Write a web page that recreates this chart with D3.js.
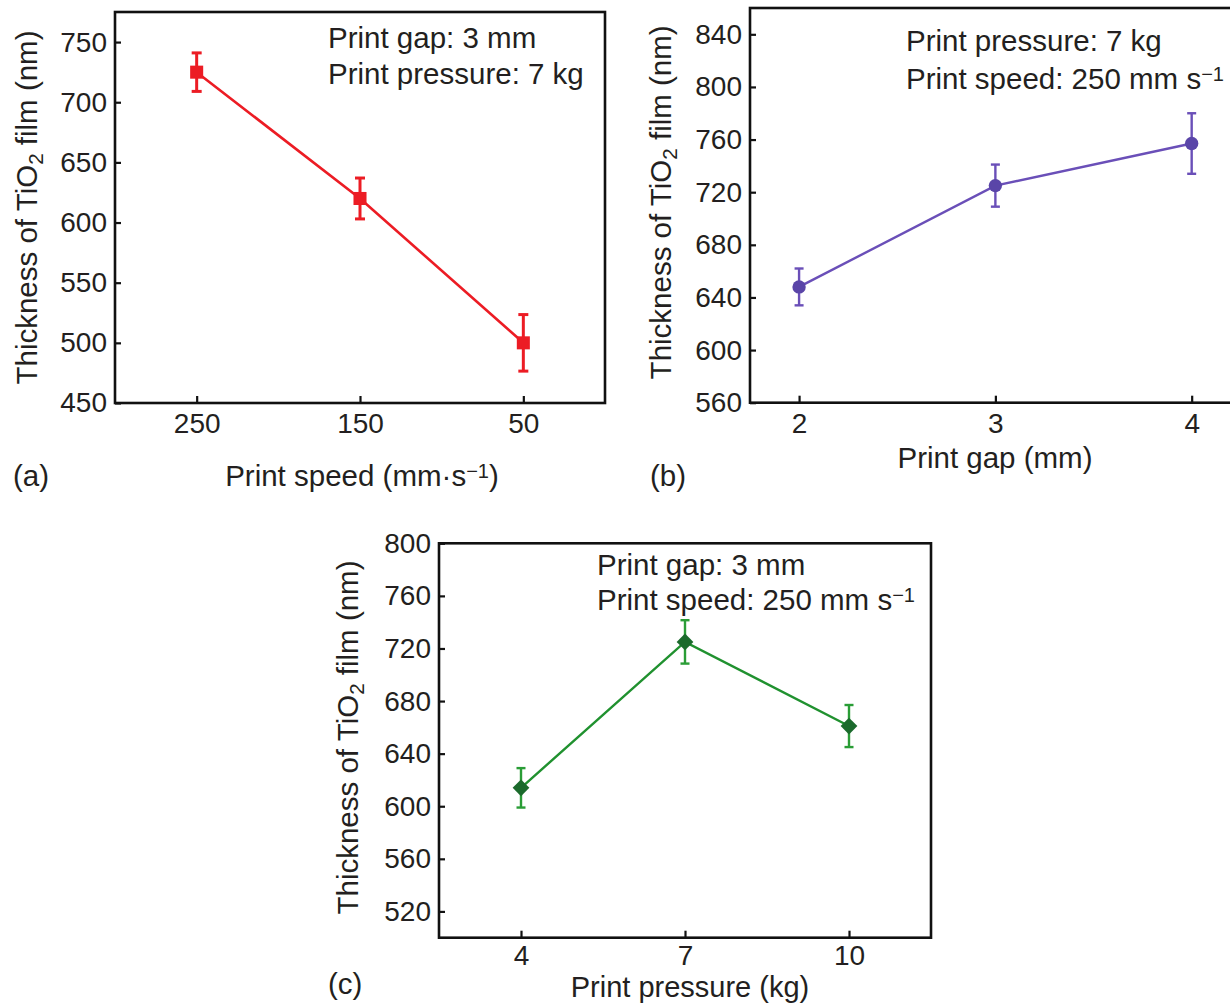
<!DOCTYPE html>
<html><head><meta charset="utf-8">
<script src="https://cdn.jsdelivr.net/npm/d3@7"></script>
<style>
html,body{margin:0;padding:0;background:#fff;}
svg text{font-family:"Liberation Sans",Arial,Helvetica,sans-serif;fill:#231f20;}
</style></head>
<body><svg id="c" width="1230" height="1005"></svg>
<script>
// ---- data ----
const speedCats = [250, 150, 50];
const speedThick = [725, 620, 500];
const speedErr = [16, 17, 23.5];
const speedTicksY = [450, 500, 550, 600, 650, 700, 750];

const gapCats = [2, 3, 4];
const gapThick = [648, 725, 757];
const gapErr = [14, 16, 23];
const gapTicksY = [560, 600, 640, 680, 720, 760, 800, 840];

const pressCats = [4, 7, 10];
const pressThick = [614, 725, 661];
const pressErr = [15, 16.5, 16];
const pressTicksY = [520, 560, 600, 640, 680, 720, 760, 800];

const svg = d3.select("#c");
const TICK_FS = 28, TXT_FS = 29.5;

function panel(cfg){
  const g = svg.append("g");
  const x = d3.scaleLinear().domain(cfg.xDomain).range([cfg.left, cfg.right]);
  const y = d3.scaleLinear().domain(cfg.yDomain).range([cfg.bottom, cfg.top]);

  // frame
  g.append("rect").attr("x", cfg.left).attr("y", cfg.top)
    .attr("width", cfg.right - cfg.left).attr("height", cfg.bottom - cfg.top)
    .attr("fill", "none").attr("stroke", "#111").attr("stroke-width", 2.6);

  // axes
  const ya = g.append("g").attr("transform", `translate(${cfg.left},0)`)
    .call(d3.axisLeft(y).tickValues(cfg.yTicks).tickSize(-6).tickPadding(8).tickFormat(d3.format("d")));
  const xa = g.append("g").attr("transform", `translate(0,${cfg.bottom})`)
    .call(d3.axisBottom(x).tickValues(cfg.cats).tickSize(-7).tickPadding(cfg.xPad).tickFormat(d3.format("d")));
  [ya, xa].forEach(a => {
    a.select(".domain").remove();
    a.selectAll(".tick line").attr("stroke", "#111").attr("stroke-width", 2.2);
    a.selectAll(".tick text").attr("font-size", TICK_FS).attr("fill", "#231f20");
  });

  const pts = cfg.cats.map((c, i) => ({x: c, y: cfg.vals[i], e: cfg.errs[i]}));

  // line
  g.append("path").datum(pts)
    .attr("d", d3.line().x(d => x(d.x)).y(d => y(d.y)))
    .attr("fill", "none").attr("stroke", cfg.lineColor).attr("stroke-width", cfg.lineW);

  // error bars
  const eb = g.append("g").attr("stroke", cfg.errColor).attr("stroke-width", cfg.errW).attr("fill", "none");
  pts.forEach(d => {
    eb.append("line").attr("x1", x(d.x)).attr("x2", x(d.x)).attr("y1", y(d.y - d.e)).attr("y2", y(d.y + d.e));
    [d.y - d.e, d.y + d.e].forEach(v => {
      eb.append("line").attr("x1", x(d.x) - cfg.cap).attr("x2", x(d.x) + cfg.cap).attr("y1", y(v)).attr("y2", y(v));
    });
  });

  // markers
  g.append("g").selectAll("path").data(pts).join("path")
    .attr("d", d3.symbol(cfg.symbol, cfg.symSize))
    .attr("transform", d => `translate(${x(d.x)},${y(d.y)}) rotate(${cfg.rot || 0})`)
    .attr("fill", cfg.markColor);

  // annotation
  cfg.notes.forEach((n, i) => {
    const t = g.append("text").attr("x", cfg.noteX).attr("y", cfg.noteY + i * cfg.noteDy).attr("font-size", TXT_FS);
    t.append("tspan").text(n[0]);
    if (n[1]) t.append("tspan").attr("baseline-shift", "38%").attr("font-size", TXT_FS * 0.68).text(n[1]);
  });

  // y title
  const yt = g.append("text").attr("transform", `translate(${cfg.yTitleX},${(cfg.top + cfg.bottom) / 2 + cfg.yTitleOff}) rotate(-90)`)
    .attr("text-anchor", "middle").attr("font-size", TXT_FS);
  yt.append("tspan").text("Thickness of TiO");
  yt.append("tspan").attr("baseline-shift", "-28%").attr("font-size", TXT_FS * 0.7).text("2");
  yt.append("tspan").text(" film (nm)");

  // x title
  const xt = g.append("text").attr("x", cfg.xTitleX).attr("y", cfg.xTitleY).attr("text-anchor", "middle").attr("font-size", cfg.xTitleFs || TXT_FS);
  xt.append("tspan").text(cfg.xTitle[0]);
  if (cfg.xTitle[1]) {
    xt.append("tspan").attr("baseline-shift", "38%").attr("font-size", TXT_FS * 0.68).text(cfg.xTitle[1]);
    xt.append("tspan").attr("baseline-shift", "0").text(cfg.xTitle[2]);
  }

  // panel letter
  g.append("text").attr("x", cfg.letterX).attr("y", cfg.letterY).attr("font-size", TXT_FS).text(cfg.letter);
}

panel({
  left: 115, right: 605, top: 12, bottom: 403,
  xDomain: [300, 0], yDomain: [450, 775], yTicks: speedTicksY, xPad: 10,
  cats: speedCats, vals: speedThick, errs: speedErr,
  lineColor: "#ec1c24", lineW: 2.6, errColor: "#ec1c24", errW: 3, cap: 5,
  markColor: "#ec1c24", symbol: d3.symbolSquare, symSize: 170,
  notes: [["Print gap: 3 mm"], ["Print pressure: 7 kg"]], noteX: 328, noteY: 48, noteDy: 36,
  yTitleX: 37, yTitleOff: 0, xTitle: ["Print speed (mm·s", "−1", ")"], xTitleX: 362, xTitleY: 486,
  letter: "(a)", letterX: 13, letterY: 486
});

panel({
  left: 750, right: 1240.75, top: 8, bottom: 402.7,
  xDomain: [1.75, 4.25], yDomain: [560, 860], yTicks: gapTicksY, xPad: 10,
  cats: gapCats, vals: gapThick, errs: gapErr,
  lineColor: "#6a4fb8", lineW: 2.4, errColor: "#6a4fb8", errW: 2.4, cap: 4.5,
  markColor: "#5a45a8", symbol: d3.symbolCircle, symSize: 140,
  notes: [["Print pressure: 7 kg"], ["Print speed: 250 mm s", "−1"]], noteX: 906, noteY: 51, noteDy: 38,
  yTitleX: 671, yTitleOff: -3, xTitle: ["Print gap (mm)"], xTitleX: 995, xTitleY: 468,
  letter: "(b)", letterX: 650, letterY: 486
});

panel({
  left: 439, right: 931, top: 543.3, bottom: 937.7,
  xDomain: [2.5, 11.5], yDomain: [500, 800], yTicks: pressTicksY, xPad: 7,
  cats: pressCats, vals: pressThick, errs: pressErr,
  lineColor: "#20912f", lineW: 2.4, errColor: "#2a9d36", errW: 2.4, cap: 4.5,
  markColor: "#1b6a2c", symbol: d3.symbolSquare, symSize: 140, rot: 45,
  notes: [["Print gap: 3 mm"], ["Print speed: 250 mm s", "−1"]], noteX: 597, noteY: 575, noteDy: 35,
  yTitleX: 358, yTitleOff: -3, xTitle: ["Print pressure (kg)"], xTitleX: 690, xTitleY: 997, xTitleFs: 29,
  letter: "(c)", letterX: 328, letterY: 994
});
</script></body></html>
